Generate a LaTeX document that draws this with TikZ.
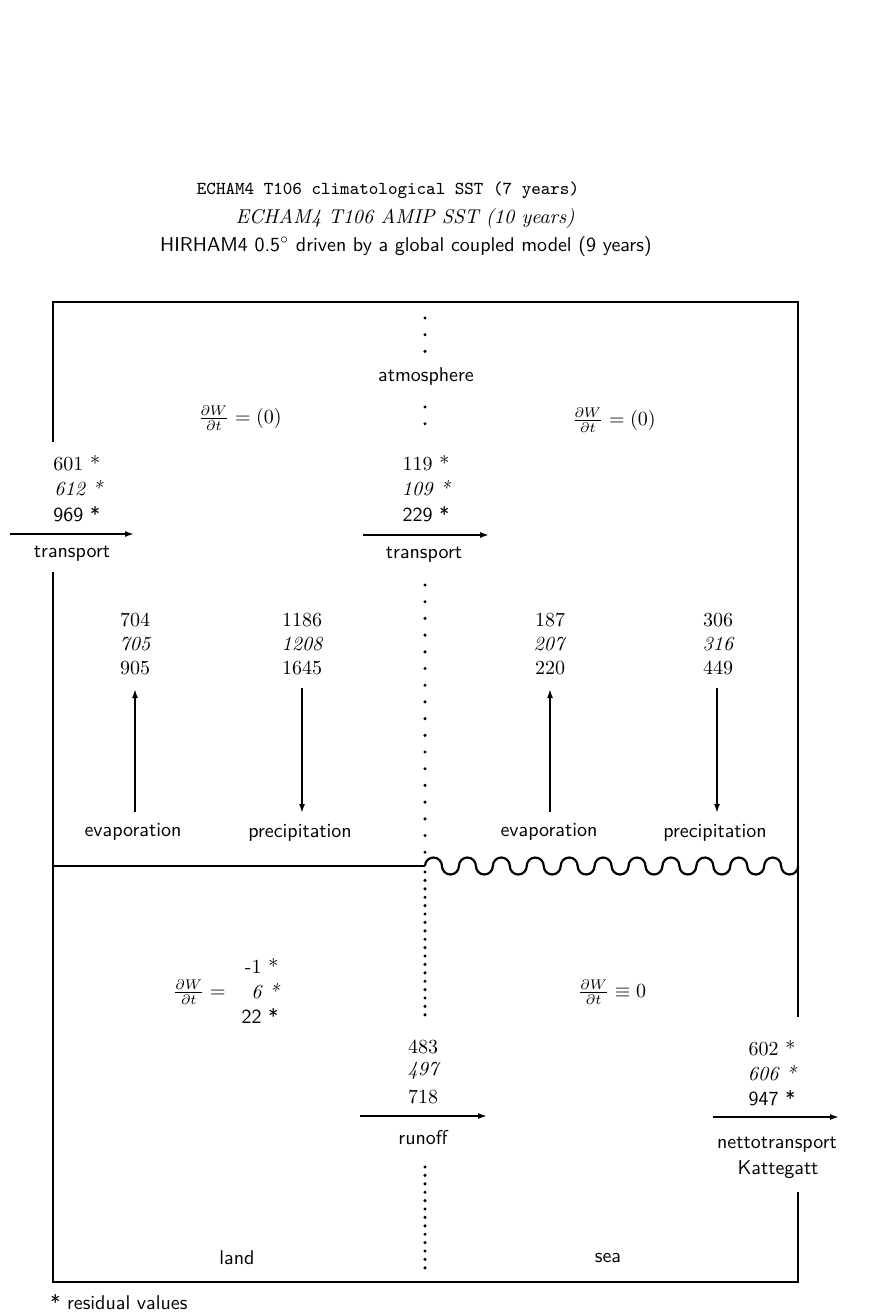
\documentclass[tikz,border=0pt]{standalone}
\usetikzlibrary{arrows.meta}
\begin{document}
\begin{tikzpicture}[x=0.5pt,y=-0.5pt,
  frame/.style={line width=1.1pt},
  flow/.style={line width=0.8pt,-{Latex[length=4.5pt,width=3pt]}},
  sparse/.style={line width=1.7pt,line cap=round,dash pattern=on 0pt off 8.35pt},
  dense/.style={line width=1.7pt,line cap=round,dash pattern=on 0pt off 4.2pt},
  lbl/.style={font=\sffamily,inner sep=0pt},
  ra/.style={font=\rmfamily,inner sep=0pt},
  it/.style={font=\itshape,inner sep=0pt},
  sf/.style={font=\sffamily,inner sep=0pt},
  eq/.style={inner sep=0pt}]
\useasboundingbox (0,0) rectangle (893,1312);
\fill[white] (0,0) rectangle (893,1312);

% titles
\node[inner sep=0pt,font=\fontsize{9.1}{11}\selectfont\ttfamily] (t1) at (388,190) {ECHAM4 T106 climatological SST (7 years)};
\node[it] (t2) at (405,218) {ECHAM4 T106 AMIP SST (10 years)};
\node[sf] (t3) at (406,246) {HIRHAM4 0.5$^\circ$ driven by a global coupled model (9 years)};

% frame coordinates
\coordinate (tl) at (53,302);
\coordinate (tr) at (798,302);
\coordinate (lgt) at (53,442);
\coordinate (lgb) at (53,572);
\coordinate (bl) at (53,1282);
\coordinate (br) at (798,1282);
\coordinate (rgt) at (798,1017);
\coordinate (rgb) at (798,1192);
\draw[frame] (lgt) -- (tl) -- (tr) -- (rgt);
\draw[frame] (lgb) -- (bl) -- (br) -- (rgb);

% surface line: land straight, sea wavy
\coordinate (hl) at (53,866);
\coordinate (hm) at (425,866);
\coordinate (hr) at (798,866);
\draw[frame] (hl) -- (hm);
\draw[frame] (hm) \foreach \i in {1,...,11} {
  arc[start angle=180,end angle=360,radius=8.48]
  arc[start angle=180,end angle=0,radius=8.48]};

% dotted divider
\coordinate (dA1) at (425,318); \coordinate (dA2) at (425,352);
\coordinate (dB1) at (425,407); \coordinate (dB2) at (425,440);
\coordinate (dC1) at (425,585); \coordinate (dC2) at (425,858);
\coordinate (dD1) at (425,872); \coordinate (dD2) at (425,1017);
\coordinate (dE1) at (425,1167); \coordinate (dE2) at (425,1276);
\draw[sparse] (dA1) -- (dA2);
\draw[sparse] (dB1) -- (dB2);
\draw[sparse] (dC1) -- (dC2);
\draw[dense] (dD1) -- (dD2);
\draw[dense] (dE1) -- (dE2);
\node[lbl] (atm) at (426,376) {atmosphere};

% dW/dt atmosphere
\node[eq] (dwl) at (240,418) {$\frac{\partial W}{\partial t}=(0)$};
\node[eq] (dwr) at (614,420) {$\frac{\partial W}{\partial t}=(0)$};

% left transport
\node[ra,anchor=west] (l1) at (53,463) {601 *};
\node[it,anchor=west] (l2) at (54,488) {612 *};
\node[sf,anchor=west] (l3) at (53,514) {969 *};
\coordinate (la1) at (10,534); \coordinate (la2) at (134,534);
\draw[flow] (la1) -- (la2);
\node[lbl] (ltr) at (72,554) {transport};

% middle transport
\node[ra] (m1) at (426,463) {119 *};
\node[it] (m2) at (426,488) {109 *};
\node[sf] (m3) at (426,514) {229 *};
\coordinate (ma1) at (363,535); \coordinate (ma2) at (489,535);
\draw[flow] (ma1) -- (ma2);
\node[lbl] (mtr) at (424,555) {transport};

% land evaporation / precipitation
\node[ra] (e1) at (135,620) {704};
\node[it] (e2) at (135,644) {705};
\node[ra] (e3) at (135,668) {905};
\coordinate (ea1) at (135,812); \coordinate (ea2) at (135,689);
\draw[flow] (ea1) -- (ea2);
\node[lbl] (ev) at (133,832) {evaporation};

\node[ra] (p1) at (302,620) {1186};
\node[it] (p2) at (302,644) {1208};
\node[ra] (p3) at (302,668) {1645};
\coordinate (pa1) at (302,688); \coordinate (pa2) at (302,813);
\draw[flow] (pa1) -- (pa2);
\node[lbl] (pr) at (300,833) {precipitation};

% sea evaporation / precipitation
\node[ra] (se1) at (550,620) {187};
\node[it] (se2) at (549,644) {207};
\node[ra] (se3) at (550,668) {220};
\coordinate (sea1) at (550,812); \coordinate (sea2) at (550,689);
\draw[flow] (sea1) -- (sea2);
\node[lbl] (sev) at (549,832) {evaporation};

\node[ra] (sp1) at (718,620) {306};
\node[it] (sp2) at (718,644) {316};
\node[ra] (sp3) at (718,668) {449};
\coordinate (spa1) at (717,688); \coordinate (spa2) at (717,813);
\draw[flow] (spa1) -- (spa2);
\node[lbl] (spr) at (715,833) {precipitation};

% land storage
\node[eq,anchor=east] (dwland) at (226,992) {$\frac{\partial W}{\partial t}=$};
\node[ra,anchor=east] (w1) at (262,966) {-1\rlap{ *}};
\node[it,anchor=east] (w2) at (262,991) {6\rlap{ *}};
\node[sf,anchor=east] (w3) at (262,1016) {22\rlap{ *}};

% sea storage
\node[eq] (dwsea) at (612,992) {$\frac{\partial W}{\partial t}\equiv 0$};

% runoff
\node[ra] (r1) at (423,1047) {483};
\node[it] (r2) at (423,1071) {497};
\node[ra] (r3) at (423,1097) {718};
\coordinate (ra1) at (360,1116); \coordinate (ra2) at (487,1116);
\draw[flow] (ra1) -- (ra2);
\node[lbl] (ro) at (423,1138) {runoff};

% Kattegatt
\node[ra] (k1) at (772,1048) {602 *};
\node[it] (k2) at (772,1073) {606 *};
\node[sf] (k3) at (772,1098) {947 *};
\coordinate (ka1) at (713,1117); \coordinate (ka2) at (839,1117);
\draw[flow] (ka1) -- (ka2);
\node[lbl] (kt1) at (777,1145) {nettotransport};
\node[lbl] (kt2) at (778,1170) {Kattegatt};

% region labels
\node[lbl] (land) at (237,1258) {land};
\node[lbl] (sea) at (608,1258) {sea};
\node[lbl,anchor=west] (foot) at (50,1302) {* residual values};
\end{tikzpicture}
\end{document}
